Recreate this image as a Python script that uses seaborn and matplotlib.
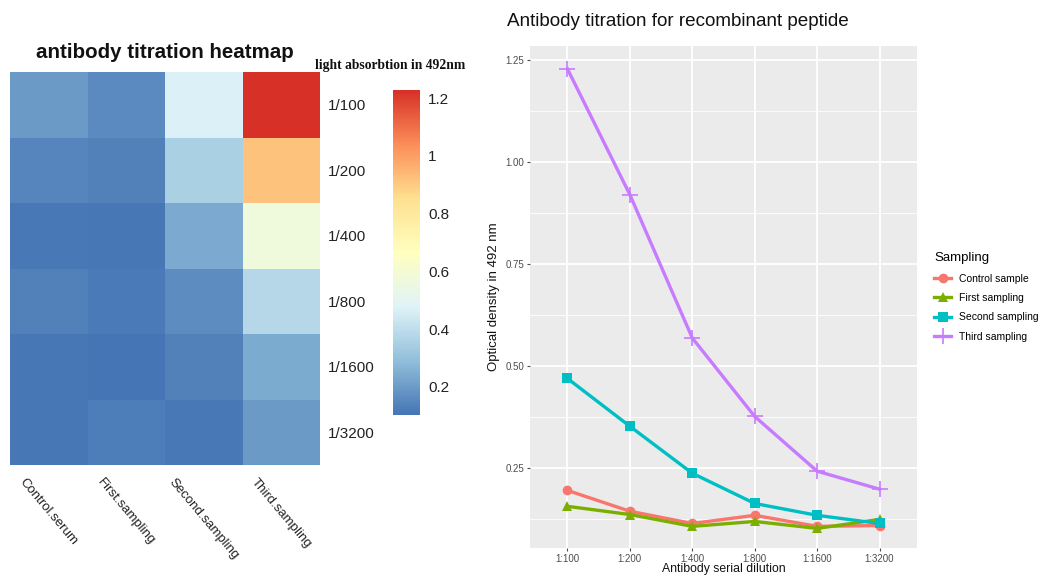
import numpy as np
import pandas as pd
import matplotlib
matplotlib.use("Agg")
import matplotlib.pyplot as plt
from matplotlib.colors import LinearSegmentedColormap
from matplotlib.ticker import MultipleLocator
import seaborn as sns

# data
dilution_line = ["1:100", "1:200", "1:400", "1:800", "1:1600", "1:3200"]
dilution_heat = ["1/100", "1/200", "1/400", "1/800", "1/1600", "1/3200"]
heat_columns = ["Control.serum", "First.sampling", "Second.sampling", "Third.sampling"]
line_groups = ["Control sample", "First sampling", "Second sampling", "Third sampling"]

control = [0.196, 0.145, 0.115, 0.135, 0.108, 0.110]
first = [0.157, 0.137, 0.108, 0.120, 0.103, 0.125]
second = [0.470, 0.353, 0.238, 0.164, 0.135, 0.115]
third = [1.228, 0.920, 0.569, 0.377, 0.243, 0.199]

colorbar_ticks = [0.2, 0.4, 0.6, 0.8, 1.0, 1.2]
colorbar_labels = ["0.2", "0.4", "0.6", "0.8", "1", "1.2"]

# ---- styling
palette = ["#F8766D", "#7CAE00", "#00BFC4", "#C77CFF"]
markers = ["o", "^", "s", "P"]
brewer = ["#4575B4", "#91BFDB", "#E0F3F8", "#FFFFBF", "#FEE090", "#FC8D59", "#D73027"]
cmap = LinearSegmentedColormap.from_list("rdylbu7", brewer, N=256)

plt.rcParams['font.family'] = ['Liberation Sans', 'DejaVu Sans']

fig = plt.figure(figsize=(10.38, 5.76), dpi=100)
W, H = 1038, 576

def box(x0, y0, x1, y1):
    return [x0 / W, 1 - y1 / H, (x1 - x0) / W, (y1 - y0) / H]

ax_h = fig.add_axes(box(10, 72, 320, 465))
ax_cb = fig.add_axes(box(393, 90, 420, 415))
ax_l = fig.add_axes(box(530, 46, 917, 548))

# ---- heatmap
heat_df = pd.DataFrame({heat_columns[0]: control, heat_columns[1]: first,
                        heat_columns[2]: second, heat_columns[3]: third},
                       index=dilution_heat)
vals = heat_df.values
sns.heatmap(heat_df, ax=ax_h, cbar_ax=ax_cb, cmap=cmap,
            vmin=vals.min(), vmax=vals.max(), linewidths=0,
            cbar_kws={"ticks": colorbar_ticks})
ax_h.yaxis.tick_right()
ax_h.set_yticklabels(dilution_heat, rotation=0, fontsize=11, color="#222222")
ax_h.set_xticklabels(heat_columns, rotation=-50, ha="center", va="top",
                     fontsize=9.5, color="#222222")
ax_h.tick_params(axis="both", length=0, pad=8)
ax_h.tick_params(axis="y", pad=6)
ax_h.set_xlabel("")
ax_h.set_ylabel("")
fig.text(165 / W, 1 - 52 / H, "antibody titration heatmap", ha="center",
         va="center", fontsize=14.8, fontweight="bold", color="#111111")

ax_cb.set_yticklabels(colorbar_labels, fontsize=11, color="#222222")
ax_cb.tick_params(length=0, pad=6)
for s in ax_cb.spines.values():
    s.set_visible(False)
cbar = ax_h.collections[0].colorbar
if cbar is not None:
    cbar.outline.set_visible(False)
fig.text(390 / W, 1 - 65 / H, "light absorbtion in 492nm", ha="center",
         va="center", fontsize=9.8, fontweight="bold",
         family=["Liberation Serif", "DejaVu Serif"], color="#111111")

# ---- line chart
line_df = pd.DataFrame({
    "dilution": dilution_line * 4,
    "od": control + first + second + third,
    "Sampling": [g for g in line_groups for _ in dilution_line],
})
ax_l.set_facecolor("#EBEBEB")
sns.lineplot(data=line_df, x="dilution", y="od", hue="Sampling",
             style="Sampling", markers=markers, dashes=False,
             palette=palette, sort=False, linewidth=2.4, markersize=7,
             markeredgewidth=0, ax=ax_l, legend=True)


def thin_plus(ln):
    # third sampling uses a thin cross like ggplot shape 3
    if ln.get_marker() == "P":
        ln.set_marker("+")
        ln.set_markersize(11)
        ln.set_markeredgewidth(1.2)
        ln.set_markeredgecolor(ln.get_color())


for ln in ax_l.get_lines():
    thin_plus(ln)

ax_l.set_xlim(-0.6, 5.6)
ax_l.set_ylim(0.055, 1.284)
ax_l.yaxis.set_major_locator(MultipleLocator(0.25))
ax_l.yaxis.set_minor_locator(MultipleLocator(0.125))
ax_l.set_yticks([0.25, 0.5, 0.75, 1.0, 1.25])
ax_l.set_yticklabels(["0.25", "0.50", "0.75", "1.00", "1.25"])
ax_l.grid(which="major", color="white", linewidth=1.3)
ax_l.grid(which="minor", axis="y", color="white", linewidth=0.6)
ax_l.set_axisbelow(True)
for s in ax_l.spines.values():
    s.set_visible(False)
ax_l.tick_params(axis="both", which="major", labelsize=7, colors="#4D4D4D",
                 length=2.5, width=0.8, pad=1.5)
ax_l.tick_params(axis="y", which="minor", length=0)
ax_l.set_xlabel("Antibody serial dilution", fontsize=8.8, color="#111111",
                va="bottom")
ax_l.xaxis.set_label_coords(0.5, -27 / 502)
ax_l.set_ylabel("Optical density in 492 nm", fontsize=9.5, color="#111111", labelpad=4)
fig.text(507 / W, 1 - 22 / H, "Antibody titration for recombinant peptide",
         ha="left", va="center", fontsize=13.6, color="#111111")

handles, labels = ax_l.get_legend_handles_labels()
ax_l.get_legend().remove()
for h in handles:
    thin_plus(h)
leg = fig.legend(handles, labels, title="Sampling", loc="upper left",
                 bbox_to_anchor=(930 / W, 1 - 248 / H), frameon=False,
                 fontsize=7.5, title_fontsize=9.5, handlelength=1.6,
                 labelspacing=0.9, alignment="left", borderaxespad=0)

fig.savefig("out.png", dpi=100)
